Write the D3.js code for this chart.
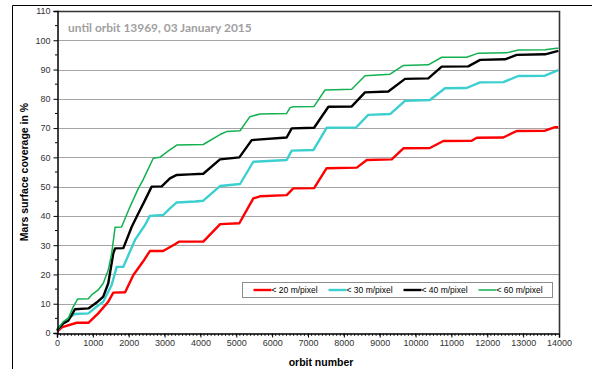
<!DOCTYPE html>
<html>
<head>
<meta charset="utf-8">
<script src="https://cdn.jsdelivr.net/npm/d3@7"></script>
<style>
  body { margin: 0; background: #fff; }
  svg { display: block; }
</style>
</head>
<body>
<div id="chart"></div>
<script>
// coverage readings per resolution class, [orbit, percent]
var res20 = [[0,0.5],[150,2],[550,3.5],[875,3.5],[1150,6.7],[1430,10.7],[1570,13.8],[1900,13.9],[2130,19.8],[2400,24.4],[2590,28],[2960,28],[3290,30.3],[3400,31.2],[4080,31.2],[4550,37.2],[5085,37.5],[5475,46],[5660,46.7],[6405,47.1],[6590,49.4],[7170,49.5],[7520,56.3],[8360,56.5],[8640,59.1],[9335,59.3],[9660,63.1],[10400,63.2],[10775,65.6],[11565,65.7],[11705,66.7],[12445,66.8],[12820,69.0],[13610,69.1],[13890,70.3],[13980,70.3]];
var res30 = [[0,0.8],[150,3],[315,5],[500,6.5],[875,6.7],[1105,9],[1290,10.7],[1525,16.4],[1665,22.6],[1850,22.6],[2175,31.8],[2455,36.9],[2590,40],[2965,40.3],[3150,42.6],[3340,44.6],[3850,44.9],[4080,45.2],[4545,50.2],[5105,50.9],[5475,58.5],[6405,59.1],[6545,62.3],[7150,62.5],[7520,70.1],[8340,70.2],[8680,74.5],[9290,74.8],[9705,79.3],[10400,79.6],[10820,83.6],[11425,83.7],[11800,85.6],[12450,85.7],[12865,87.8],[13610,87.9],[13980,89.8]];
var res40 = [[0,1],[175,3.3],[315,4.2],[500,8.1],[875,8.4],[1105,10.4],[1290,12.4],[1430,17],[1570,27.2],[1620,28.9],[1850,29],[2085,36.3],[2270,40.9],[2455,45.4],[2640,50],[2920,50.1],[3150,52.8],[3340,54],[3710,54.2],[4080,54.4],[4545,59.3],[5085,60],[5430,65.9],[6405,66.8],[6545,69.9],[7170,70.1],[7570,77.3],[8220,77.4],[8590,82.2],[9240,82.5],[9705,86.8],[10355,87],[10730,91],[11470,91.1],[11800,93.3],[12495,93.5],[12820,95],[13610,95.2],[13980,96.4]];
var res60 = [[0,1],[175,3.9],[315,5],[455,9],[575,11.6],[875,11.7],[965,13],[1150,14.7],[1290,17],[1430,21.5],[1525,27.2],[1620,36.1],[1800,36.2],[2035,43.1],[2270,49.4],[2400,52.3],[2685,59.7],[2870,60],[3105,62.2],[3340,64.2],[4080,64.4],[4545,67.8],[4730,68.8],[5105,69.1],[5380,73.9],[5660,74.8],[6405,75],[6500,77],[6590,77.3],[7170,77.4],[7475,83],[8220,83.3],[8590,87.9],[9290,88.4],[9660,91.4],[10355,91.6],[10730,94.2],[11425,94.2],[11750,95.6],[12540,95.7],[12865,96.7],[13610,96.8],[13935,97.3],[13980,97.3]];

var seriesNames = ['< 20 m/pixel', '< 30 m/pixel', '< 40 m/pixel', '< 60 m/pixel'];
var xTicks = [0,1000,2000,3000,4000,5000,6000,7000,8000,9000,10000,11000,12000,13000,14000];
var yTicks = [0,10,20,30,40,50,60,70,80,90,100,110];
var titleText = 'until orbit 13969, 03 January 2015';

var width = 592, height = 369;
var margin = {left: 57, top: 11, right: 33, bottom: 36};

var series = [
  {name: seriesNames[0], data: res20, color: '#ff0000', w: 2.4},
  {name: seriesNames[1], data: res30, color: '#3ccfd0', w: 2.4},
  {name: seriesNames[2], data: res40, color: '#000000', w: 2.4},
  {name: seriesNames[3], data: res60, color: '#12b04f', w: 1.5}
];

var svg = d3.select('#chart').append('svg')
    .attr('width', width)
    .attr('height', height)

// page frame
svg.append('line').attr('x1', 12.5).attr('x2', width).attr('y1', 5.5).attr('y2', 5.5)
    .attr('stroke', '#000').attr('stroke-width', 1)
svg.append('line').attr('x1', 12.5).attr('x2', 12.5).attr('y1', 5.5).attr('y2', height)
    .attr('stroke', '#000').attr('stroke-width', 1)

var x0 = margin.left, x1 = width - margin.right,
    y0 = height - margin.bottom, y1 = margin.top;

var xScale = d3.scaleLinear().domain([0, 14000]).range([x0, x1]);
var yScale = d3.scaleLinear().domain([0, 110]).range([y0, y1]);

// gridlines
svg.append('g').selectAll('line')
    .data(yTicks.filter(function(d) { return d > 0 && d < 110; }))
    .enter().append('line')
    .attr('x1', x0).attr('x2', x1)
    .attr('y1', function(d) { return Math.round(yScale(d)) + 0.5; })
    .attr('y2', function(d) { return Math.round(yScale(d)) + 0.5; })
    .attr('stroke', '#a6a6a6').attr('stroke-width', 1)

// plot border top/right
svg.append('path')
    .attr('d', 'M' + x0 + ',' + (y1 + 0.5) + 'H' + (x1 + 0.5) + 'V' + y0)
    .attr('fill', 'none').attr('stroke', '#333').attr('stroke-width', 1.6)

// lines
var line = d3.line()
    .x(function(d) { return xScale(d[0]); })
    .y(function(d) { return yScale(d[1]); });

svg.append('g').selectAll('path')
    .data(series)
    .enter().append('path')
    .attr('d', function(d) { return line(d.data); })
    .attr('fill', 'none')
    .attr('stroke', function(d) { return d.color; })
    .attr('stroke-width', function(d) { return d.w; })
    .attr('stroke-linejoin', 'round')

// y axis
var yAxis = d3.axisLeft(yScale).tickValues(yTicks).tickSize(4).tickFormat(d3.format('d'));
var gy = svg.append('g').attr('transform', 'translate(' + (x0 + 0.5) + ',0)').call(yAxis);
gy.select('.domain').attr('stroke', '#000').attr('stroke-width', 1.5);
gy.selectAll('.tick text').attr('font-family', 'Liberation Sans, Arial, sans-serif')
    .attr('font-size', 9).attr('fill', '#333').attr('x', -7);
var yMinor = d3.range(5, 110, 10);
gy.selectAll('.minor').data(yMinor).enter().append('line')
    .attr('class', 'minor')
    .attr('x1', -2.5).attr('x2', 0)
    .attr('y1', function(d) { return yScale(d); })
    .attr('y2', function(d) { return yScale(d); })
    .attr('stroke', '#000')

// x axis
var xAxis = d3.axisBottom(xScale).tickValues(xTicks).tickSize(4).tickFormat(d3.format('d'));
var gx = svg.append('g').attr('transform', 'translate(0,' + (y0 + 0.5) + ')').call(xAxis);
gx.select('.domain').attr('stroke', '#000').attr('stroke-width', 1.5);
gx.selectAll('.tick text').attr('font-family', 'Liberation Sans, Arial, sans-serif')
    .attr('font-size', 9).attr('fill', '#333').attr('y', 6);
gx.selectAll('.minor').data(d3.range(100, 14000, 100)).enter().append('line')
    .attr('class', 'minor')
    .attr('x1', function(d) { return xScale(d); })
    .attr('x2', function(d) { return xScale(d); })
    .attr('y1', 0).attr('y2', 2.5)
    .attr('stroke', '#000').attr('stroke-width', 0.8)

// title inside plot
var title = svg.append('text')
    .attr('x', 68).attr('y', 32)
    .attr('font-family', 'Lato, Open Sans, sans-serif')
    .attr('font-weight', 'bold')
    .attr('font-size', 12)
    .attr('fill', '#a0a0a0')
    .text(titleText)
var tw = title.node().getComputedTextLength();
title.attr('font-size', 12 * 184 / tw);

// axis titles
svg.append('text')
    .attr('transform', 'translate(28,' + ((y0 + y1) / 2) + ') rotate(-90)')
    .attr('text-anchor', 'middle')
    .attr('font-family', 'Liberation Sans, Arial, sans-serif')
    .attr('font-weight', 'bold')
    .attr('font-size', 10.5)
    .text('Mars surface coverage in %')

svg.append('text')
    .attr('x', 321).attr('y', 366)
    .attr('text-anchor', 'middle')
    .attr('font-family', 'Liberation Sans, Arial, sans-serif')
    .attr('font-weight', 'bold')
    .attr('font-size', 10.5)
    .text('orbit number')

// legend
var legend = svg.append('g').attr('transform', 'translate(242.5,282.5)');
legend.append('rect').attr('width', 310).attr('height', 15)
    .attr('fill', '#fff').attr('stroke', '#8c8c8c').attr('stroke-width', 1)
var legX = [11, 86, 161, 236];
var items = legend.selectAll('.item').data(series).enter().append('g')
    .attr('class', 'item')
    .attr('transform', function(d, i) { return 'translate(' + legX[i] + ',7.5)'; })
items.append('line').attr('x1', 0).attr('x2', 18).attr('y1', 0).attr('y2', 0)
    .attr('stroke', function(d) { return d.color; })
    .attr('stroke-width', function(d) { return d.w; })
items.append('text').attr('x', 18).attr('y', 3)
    .attr('font-family', 'Liberation Sans, Arial, sans-serif')
    .attr('font-size', 8.5)
    .text(function(d) { return d.name; })
</script>
</body>
</html>
